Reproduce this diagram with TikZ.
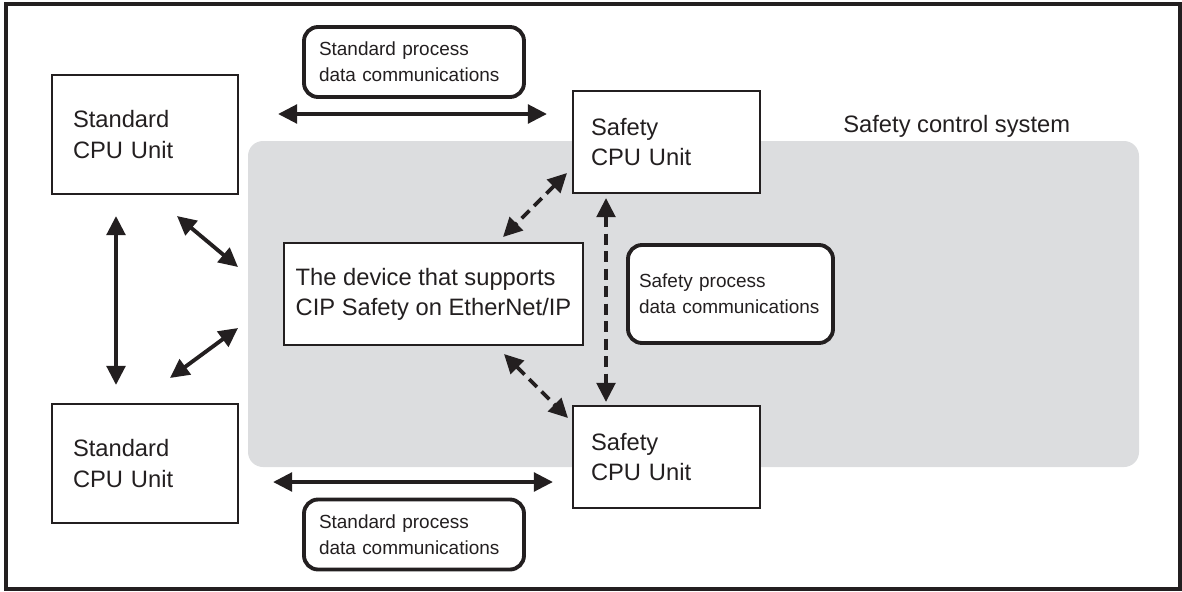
\documentclass[tikz,border=0pt]{standalone}
\usepackage{fontspec}
\setmainfont{Liberation Sans}
\usepackage{xcolor}
\definecolor{scdark}{RGB}{35,31,32}
\definecolor{scgray}{RGB}{220,221,223}
\usetikzlibrary{arrows.meta,positioning}

\begin{document}
\begin{tikzpicture}[
  unitbox/.style={draw=scdark, line width=1.2pt, fill=white, align=left, text=scdark,
    font=\fontsize{13.5pt}{17.1pt}\selectfont},
  commbox/.style={draw=scdark, line width=2.2pt, fill=white, rounded corners=0.28cm, align=left, text=scdark,
    font=\fontsize{10.8pt}{15pt}\selectfont},
  linkarrow/.style={{Triangle[length=0.38cm,width=0.37cm]}-{Triangle[length=0.38cm,width=0.37cm]}, line width=2.2pt, scdark},
  safearrow/.style={linkarrow, line width=2.1pt, dash pattern=on 0.22cm off 0.13cm}
]
  \useasboundingbox (0,0) rectangle (23.64,11.82);

  % Outer frame
  \draw[scdark, line width=1.8pt] (0.12,0.04) rectangle (23.60,11.74);

  % Safety control system area
  \fill[scgray, rounded corners=0.3cm] (4.96,2.48) rectangle (22.78,9.00);
  \node[anchor=base west, inner sep=0, text=scdark, font=\fontsize{13.5pt}{17.1pt}\selectfont] (area) at (16.86,9.18) {Safety control system};

  % Standard CPU Units
  \node[unitbox, minimum width=3.72cm, minimum height=2.38cm, text width=2.88cm, inner xsep=0.42cm] (std1) at (2.90,9.13) {Standard\\CPU Unit};
  \node[unitbox, minimum width=3.72cm, minimum height=2.38cm, text width=2.88cm, inner xsep=0.42cm] (std2) at (2.90,2.55) {Standard\\CPU Unit};

  % Safety CPU Units
  \node[unitbox, minimum width=3.74cm, minimum height=2.04cm, text width=3.02cm, inner xsep=0.36cm] (saf1) at (13.33,8.98) {Safety\\CPU Unit};
  \node[unitbox, minimum width=3.74cm, minimum height=2.04cm, text width=3.02cm, inner xsep=0.36cm] (saf2) at (13.33,2.68) {Safety\\CPU Unit};

  % CIP Safety device
  \node[unitbox, minimum width=5.98cm, minimum height=2.04cm] (dev) at (8.67,5.94) {The device that supports\\CIP Safety on EtherNet/IP};

  % Communication labels
  \node[commbox, minimum width=4.40cm, minimum height=1.40cm, text width=3.80cm, inner xsep=0.30cm] (stdtop) at (8.28,10.58) {Standard process\\data communications};
  \node[commbox, minimum width=4.40cm, minimum height=1.40cm, text width=3.80cm, inner xsep=0.30cm] (stdbot) at (8.28,1.13) {Standard process\\data communications};
  \node[commbox, minimum width=4.10cm, minimum height=1.96cm, text width=3.66cm, inner xsep=0.22cm] (safcomm) at (14.61,5.94) {Safety process\\data communications};

  % Standard links
  \draw[linkarrow, shorten <=0.78cm, shorten >=0.5cm] ([yshift=0.41cm]std1.east) -- ([yshift=0.41cm]std1.east -| saf1.west);
  \draw[linkarrow, shorten <=0.68cm, shorten >=0.38cm] ([yshift=-0.37cm]std2.east) -- ([yshift=-0.37cm]std2.east -| saf2.west);
  \draw[linkarrow, shorten <=0.42cm, shorten >=0.36cm] ([xshift=-0.58cm]std1.south) -- ([xshift=-0.58cm]std2.north);

  \coordinate (ul1) at (3.54,7.50);
  \coordinate (ul2) at (4.76,6.48);
  \coordinate (ll1) at (3.40,4.26);
  \coordinate (ll2) at (4.76,5.26);
  \draw[linkarrow] (ul1) -- (ul2);
  \draw[linkarrow] (ll1) -- (ll2);

  % Safety links
  \coordinate (st1) at (11.34,8.36);
  \coordinate (st2) at (10.06,7.08);
  \coordinate (sb1) at (10.08,4.74);
  \coordinate (sb2) at (11.36,3.46);
  \draw[safearrow] (st1) -- (st2);
  \draw[safearrow] (sb1) -- (sb2);
  \draw[safearrow, shorten <=0.08cm, shorten >=0.06cm] ([xshift=-1.21cm]saf1.south) -- ([xshift=-1.21cm]saf2.north);
\end{tikzpicture}
\end{document}
